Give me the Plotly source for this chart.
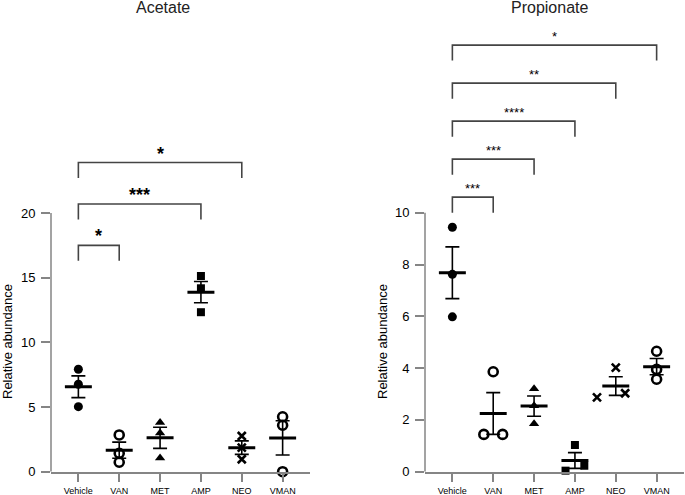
import plotly.graph_objects as go

groups = ["Vehicle", "VAN", "MET", "AMP", "NEO", "VMAN"]

# Acetate, relative abundance per mouse
acetate = {
    "Vehicle": [7.92, 6.76, 5.03],
    "VAN": [2.84, 1.42, 0.73],
    "MET": [3.8, 3.0, 1.05],
    "AMP": [15.13, 14.18, 12.33],
    "NEO": [2.76, 1.86, 0.96],
    "VMAN": [4.25, 3.59, 0.0],
}
# Propionate, relative abundance per mouse
propionate = {
    "Vehicle": [9.44, 7.62, 5.98],
    "VAN": [3.86, 1.44, 1.44],
    "MET": [3.2, 2.55, 1.85],
    "AMP": [0.04, 1.03, 0.23],
    "NEO": [4.02, 2.87, 3.03],
    "VMAN": [4.65, 3.95, 3.57],
}

acetate_sig = [("Vehicle", "VAN", "*"), ("Vehicle", "AMP", "***"), ("Vehicle", "NEO", "*")]
propionate_sig = [("Vehicle", "VAN", "***"), ("Vehicle", "MET", "***"), ("Vehicle", "AMP", "****"),
                  ("Vehicle", "NEO", "**"), ("Vehicle", "VMAN", "*")]

# horizontal scatter of overlapping points (prism style)
prop_dodge = {"VAN": [0, -0.23, 0.23], "AMP": [-0.23, 0, 0.23], "NEO": [0, -0.46, 0.23]}

symbols = {
    "Vehicle": dict(symbol="circle", color="black", size=9, line=dict(width=0)),
    "VAN": dict(symbol="circle-open", color="black", size=9, line=dict(width=2.6)),
    "MET": dict(symbol="triangle-up", color="black", size=9, line=dict(width=0)),
    "AMP": dict(symbol="square", color="black", size=8, line=dict(width=0)),
    "NEO": dict(symbol="x-thin-open", color="black", size=8, line=dict(width=2.6)),
    "VMAN": dict(symbol="circle-open", color="black", size=9, line=dict(width=2.6)),
}

W, H = 685, 495
FONT = "Liberation Sans, Arial, sans-serif"
AXIS_GREY = "#858585"


def fx(px):
    return px / W


def fy(py):
    return 1 - py / H


fig = go.Figure()


def add_panel(data, sig, dodge, xa, ya, ymax, step, leg, star_size, star_bold):
    xaxis = "x" if xa == 1 else "x%d" % xa
    yaxis = "y" if ya == 1 else "y%d" % ya
    # error bars (SEM) and mean lines
    means, sems, mx, my = [], [], [], []
    for i, g in enumerate(groups):
        v = data[g]
        n = len(v)
        m = sum(v) / n
        sd = (sum((a - m) ** 2 for a in v) / (n - 1)) ** 0.5
        means.append(m)
        sems.append(sd / n ** 0.5)
        mx += [i - 0.33, i + 0.33, None]
        my += [m, m, None]
    fig.add_trace(go.Scatter(x=list(range(len(groups))), y=means, mode="markers",
                             marker=dict(size=1, color="rgba(0,0,0,0)"),
                             error_y=dict(type="data", array=sems, width=7, thickness=1.6, color="black"),
                             xaxis=xaxis, yaxis=yaxis, showlegend=False, hoverinfo="skip"))
    fig.add_trace(go.Scatter(x=mx, y=my, mode="lines", line=dict(color="black", width=3),
                             xaxis=xaxis, yaxis=yaxis, showlegend=False, hoverinfo="skip"))
    # individual points
    for i, g in enumerate(groups):
        offs = dodge.get(g, [0] * len(data[g]))
        fig.add_trace(go.Scatter(x=[i + o for o in offs], y=data[g], mode="markers",
                                 marker=symbols[g], cliponaxis=False,
                                 xaxis=xaxis, yaxis=yaxis, showlegend=False))
    # significance brackets
    for k, (a, b, stars) in enumerate(sig):
        ia, ib = groups.index(a), groups.index(b)
        top = ymax + step * k
        fig.add_trace(go.Scatter(x=[ia, ia, ib, ib], y=[top - leg, top, top, top - leg], mode="lines",
                                 line=dict(color="#444444", width=1.6), cliponaxis=False,
                                 xaxis=xaxis, yaxis=yaxis, showlegend=False, hoverinfo="skip"))
        fig.add_annotation(x=(ia + ib) / 2, y=top, xref=xaxis, yref=yaxis, text=stars,
                           showarrow=False, yanchor="middle", yshift=9,
                           font=dict(size=star_size, color="black", family=FONT,
                                     weight="bold" if star_bold else "normal"))


add_panel(acetate, acetate_sig, {}, 1, 1, 17.5, 3.2, 1.2, 18, True)
add_panel(propionate, propionate_sig, prop_dodge, 2, 2, 10.6, 1.468, 0.6, 13, False)

ydom = [fy(471.7), fy(20)]
xcommon = dict(range=[-0.67, 5.67], tickvals=list(range(6)), ticktext=groups, automargin=False,
               showline=True, linecolor=AXIS_GREY, linewidth=1.5, ticks="outside",
               ticklen=9, tickwidth=1.5, tickcolor=AXIS_GREY, showgrid=False, zeroline=False,
               ticklabelstandoff=1,
               tickfont=dict(size=9, color="black", family=FONT))
ycommon = dict(showline=False, ticks="outside", ticklen=9, tickwidth=1.5, tickcolor=AXIS_GREY,
               showgrid=False, zeroline=False, tickfont=dict(size=13, color="black", family=FONT),
               ticklabelstandoff=3, domain=ydom, automargin=False)

fig.update_layout(
    width=W, height=H,
    margin=dict(l=0, r=0, t=0, b=0, pad=0),
    plot_bgcolor="white", paper_bgcolor="white",
    font=dict(family=FONT, color="black"),
    xaxis=dict(domain=[fx(51), fx(310)], anchor="y", **xcommon),
    yaxis=dict(range=[0, 20 * 451.7 / 258.7], tickvals=[0, 5, 10, 15, 20], anchor="x", **ycommon),
    xaxis2=dict(domain=[fx(425), fx(684)], anchor="y2", **xcommon),
    yaxis2=dict(range=[0, 10 * 451.7 / 259.0], tickvals=[0, 2, 4, 6, 8, 10], anchor="x2", **ycommon),
    shapes=[
        dict(type="line", xref="x domain", yref="y", x0=0, x1=0, y0=0, y1=20,
             line=dict(color=AXIS_GREY, width=1.5)),
        dict(type="line", xref="x2 domain", yref="y2", x0=0, x1=0, y0=0, y1=10,
             line=dict(color=AXIS_GREY, width=1.5)),
    ],
)

# panel titles and axis titles
for text, x in [("Acetate", 163), ("Propionate", 549)]:
    fig.add_annotation(x=fx(x), y=fy(8), xref="paper", yref="paper", text=text, showarrow=False,
                       xanchor="center", yanchor="middle", font=dict(size=16, color="#222222", family=FONT))
for x in [7, 382]:
    fig.add_annotation(x=fx(x), y=fy(342), xref="paper", yref="paper", text="Relative abundance",
                       showarrow=False, textangle=-90, xanchor="center", yanchor="middle",
                       font=dict(size=13, color="black", family=FONT))

# page body has a default 8px margin; drop it so the figure fills the window
fig.write_html("out.html", config={"displayModeBar": False},
               post_script="document.body.style.margin='0';")
